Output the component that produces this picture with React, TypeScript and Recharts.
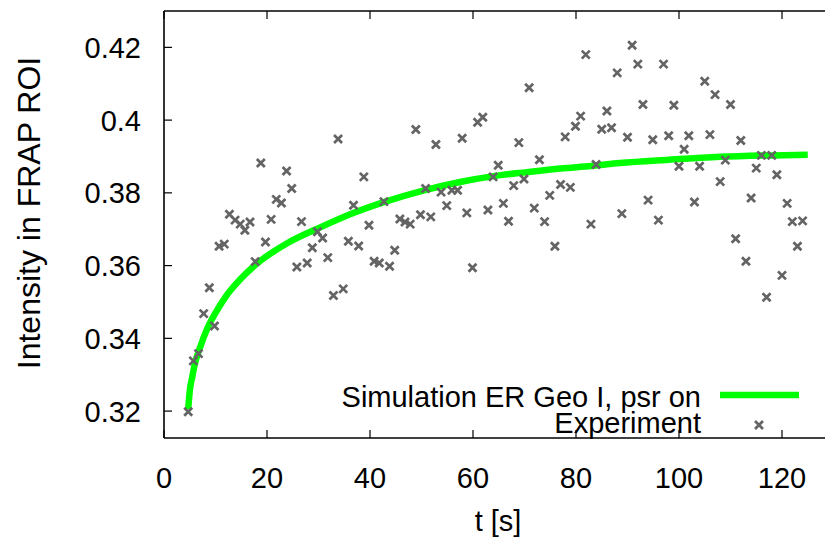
import { ComposedChart, Line, Scatter, XAxis, YAxis, ReferenceLine, Legend } from 'recharts';

// simulation curve
const simT = [4.7, 5.0, 5.5, 6.0, 7.0, 8.5, 10, 12, 15, 18, 24, 30, 37, 43, 50.5, 57.5, 64, 70.5, 77, 83, 88.5, 98, 108, 118, 125];
const simV = [0.3205, 0.3255, 0.3295, 0.333, 0.3375, 0.343, 0.347, 0.3515, 0.3565, 0.3605, 0.3662, 0.3703, 0.3746, 0.3776, 0.3807, 0.383, 0.3846, 0.3857, 0.3867, 0.3874, 0.3882, 0.3891, 0.3899, 0.3903, 0.3905];

// experiment points
const expT = [
    4.7, 5.7, 6.7, 7.7, 8.8, 9.8, 10.7, 11.7, 12.7, 13.8, 14.8, 15.7, 16.7, 17.7, 18.8, 19.7, 20.8, 21.8, 22.8, 23.8,
    24.8, 25.8, 26.7, 27.8, 28.8, 29.8, 30.8, 31.8, 32.9, 33.8, 34.8, 35.8, 36.8, 37.8, 38.8, 39.8, 40.8, 41.8, 42.7, 43.8,
    44.8, 45.8, 46.8, 47.8, 48.9, 49.8, 50.8, 51.8, 52.8, 53.8, 54.9, 55.9, 57.0, 57.9, 58.8, 59.9, 60.9, 61.9, 62.9, 63.9,
    64.9, 65.9, 66.9, 67.9, 68.9, 69.9, 70.9, 71.9, 72.9, 73.9, 74.9, 75.9, 77.0, 77.9, 78.9, 79.9, 80.9, 81.9, 82.9, 83.9,
    85.0, 86.0, 86.9, 88.0, 88.9, 90.0, 90.9, 92.0, 93.0, 94.0, 94.9, 96.0, 97.0, 98.0, 99.0, 100.0, 101.0, 101.9, 103.0,
    104, 105, 106, 107, 108, 109, 110, 111, 112, 113, 114, 115, 116, 117, 118, 119, 120, 121, 122, 123, 124,
];
const expV = [
    0.3198, 0.3338, 0.3358, 0.3468, 0.3539, 0.3434, 0.3653, 0.3659, 0.3741, 0.3725, 0.3714, 0.3697, 0.372, 0.3611, 0.3882, 0.3665, 0.3727, 0.3782, 0.3772, 0.386,
    0.3812, 0.3596, 0.3721, 0.3607, 0.3649, 0.3693, 0.3676, 0.3622, 0.3518, 0.3948, 0.3536, 0.3667, 0.3766, 0.3654, 0.3844, 0.3711, 0.3612, 0.3607, 0.3776, 0.3598,
    0.3642, 0.3728, 0.372, 0.3714, 0.3974, 0.374, 0.3812, 0.3734, 0.3933, 0.3802, 0.3765, 0.3807, 0.3807, 0.395, 0.3745, 0.3594, 0.3994, 0.4008, 0.3753, 0.3844,
    0.3876, 0.3771, 0.3722, 0.382, 0.3938, 0.3838, 0.4089, 0.3758, 0.3891, 0.3721, 0.3793, 0.3653, 0.3823, 0.3954, 0.3815, 0.3983, 0.4011, 0.418, 0.3714, 0.3878,
    0.3975, 0.4025, 0.3979, 0.413, 0.3743, 0.3953, 0.4206, 0.4154, 0.4043, 0.378, 0.3946, 0.3725, 0.4154, 0.3957, 0.4041, 0.3873, 0.392, 0.3957, 0.3775,
    0.3873, 0.4107, 0.396, 0.407, 0.3831, 0.389, 0.4043, 0.3674, 0.3944, 0.3612, 0.3786, 0.3868, 0.3903, 0.3513, 0.3903, 0.385, 0.3573, 0.3771, 0.3721, 0.3653, 0.3723,
];

const xTicks = [0, 20, 40, 60, 80, 100, 120];
const yTicks = [0.32, 0.34, 0.36, 0.38, 0.4, 0.42];

const simLabel = 'Simulation ER Geo I, psr on';
const expLabel = 'Experiment';

const simData = simT.map((t, i) => ({ t, v: simV[i] }));
const expData = expT.map((t, i) => ({ t, v: expV[i] }));

const FONT = '"Liberation Sans", Arial, Helvetica, sans-serif';
const FS = 29;
const TOP = 11;
const BOTTOM = 438;
const LEFT = 164;
const GREEN = '#00ff00';
const GREY = '#646464';

const Cross = ({ cx, cy }: any) => (
    <path d={`M${cx - 4},${cy - 4}L${cx + 4},${cy + 4}M${cx + 4},${cy - 4}L${cx - 4},${cy + 4}`} stroke={GREY} strokeWidth={2.7} />
);

const XTick = ({ x, payload }: any) => (
    <g>
        <line x1={x} x2={x} y1={BOTTOM} y2={BOTTOM - 8} stroke="#000" strokeWidth={1.2} />
        <line x1={x} x2={x} y1={TOP} y2={TOP + 8} stroke="#000" strokeWidth={1.2} />
        <text x={x} y={BOTTOM + 50} textAnchor="middle" fontFamily={FONT} fontSize={FS} fill="#000">{payload.value}</text>
    </g>
);

const YTick = ({ y, payload }: any) => (
    <g>
        <line x1={LEFT} x2={LEFT + 8} y1={y} y2={y} stroke="#000" strokeWidth={1.2} />
        <text x={LEFT - 23} y={y} dy="0.36em" textAnchor="end" fontFamily={FONT} fontSize={FS} fill="#000">{String(payload.value)}</text>
    </g>
);

const KeyBox = () => (
    <svg width={825} height={539} style={{ display: 'block' }}>
        <text x={701} y={407} textAnchor="end" fontFamily={FONT} fontSize={FS} fill="#000">{simLabel}</text>
        <line x1={720} x2={799} y1={395} y2={395} stroke={GREEN} strokeWidth={6.5} />
        <text x={701} y={433} textAnchor="end" fontFamily={FONT} fontSize={FS} fill="#000">{expLabel}</text>
        <Cross cx={759} cy={425} />
    </svg>
);

export default function App() {
    return (
        <div style={{ position: 'absolute', left: 0, top: 0, width: 825, height: 539, overflow: 'hidden', background: '#fff' }}>
            <ComposedChart width={840} height={539} margin={{ top: TOP, right: 6.5, left: 104, bottom: 41 }}>
                <XAxis
                    dataKey="t"
                    type="number"
                    domain={[0, 130]}
                    ticks={xTicks}
                    allowDataOverflow
                    height={60}
                    tickSize={0}
                    tickMargin={0}
                    tickLine={false}
                    axisLine={{ stroke: '#000', strokeWidth: 1.6 }}
                    tick={<XTick />}
                    label={() => (
                        <text x={498} y={531} textAnchor="middle" fontFamily={FONT} fontSize={FS} fill="#000">t [s]</text>
                    )}
                />
                <YAxis
                    dataKey="v"
                    type="number"
                    domain={[0.3126, 0.43]}
                    ticks={yTicks}
                    allowDataOverflow
                    width={60}
                    tickSize={0}
                    tickMargin={0}
                    tickLine={false}
                    axisLine={{ stroke: '#000', strokeWidth: 1.6 }}
                    tick={<YTick />}
                    label={() => (
                        <text x={40} y={213} transform="rotate(-90 40 213)" textAnchor="middle" fontFamily={FONT} fontSize={32} fill="#000">
                            Intensity in FRAP ROI
                        </text>
                    )}
                />
                <ReferenceLine y={0.43} stroke="#000" strokeWidth={1.6} ifOverflow="visible" />
                <Legend
                    layout="vertical"
                    align="center"
                    verticalAlign="middle"
                    wrapperStyle={{ position: 'absolute', left: 0, top: 0, width: 825, height: 539, pointerEvents: 'none' }}
                    content={() => <KeyBox />}
                />
                <Line
                    data={simData}
                    dataKey="v"
                    type="monotone"
                    stroke={GREEN}
                    strokeWidth={6.5}
                    dot={false}
                    isAnimationActive={false}
                />
                <Scatter data={expData} dataKey="v" shape={<Cross />} isAnimationActive={false} />
            </ComposedChart>
        </div>
    );
}
